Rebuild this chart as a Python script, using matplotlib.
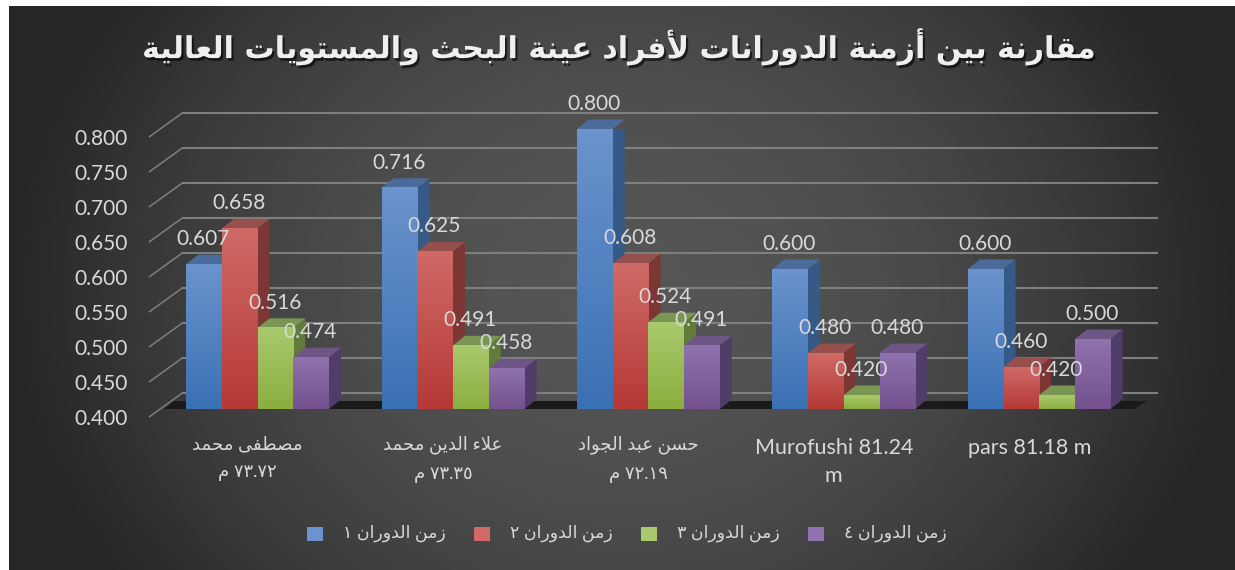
import re
import numpy as np
import matplotlib
matplotlib.use('Agg')
import matplotlib.pyplot as plt
import matplotlib.patheffects as pe
from matplotlib.patches import Patch, Polygon
from matplotlib.transforms import ScaledTranslation

plt.rcParams['font.family'] = ['Lato', 'DejaVu Sans']

title = 'مقارنة بين أزمنة الدورانات لأفراد عينة البحث والمستويات العالية'
categories = ['مصطفى محمد\n٧٣.٧٢ م', 'علاء الدين محمد\n٧٣.٣٥ م', 'حسن عبد الجواد\n٧٢.١٩ م',
              'Murofushi 81.24\nm', 'pars 81.18 m']
series_names = ['زمن الدوران ١', 'زمن الدوران ٢', 'زمن الدوران ٣', 'زمن الدوران ٤']
lap1 = [0.607, 0.716, 0.800, 0.600, 0.600]
lap2 = [0.658, 0.625, 0.608, 0.480, 0.460]
lap3 = [0.516, 0.491, 0.524, 0.420, 0.420]
lap4 = [0.474, 0.458, 0.491, 0.480, 0.500]
yticks = [0.40, 0.45, 0.50, 0.55, 0.60, 0.65, 0.70, 0.75, 0.80]

# face colours: gradient top, gradient bottom, top face, side face
colors = [('#6b93cd', '#3a71b4', '#4b6c9a', '#365a88'),
          ('#cf6a66', '#b53936', '#954f4c', '#7c3634'),
          ('#a9c96d', '#8bae3f', '#7b9552', '#627a3a'),
          ('#8f72ae', '#74518f', '#6d5586', '#503c68')]

# matplotlib does no arabic shaping, so pick the presentation forms here
two_forms = {'أ': 0xFE83, 'ا': 0xFE8D, 'ة': 0xFE93, 'د': 0xFEA9, 'ر': 0xFEAD,
             'ز': 0xFEAF, 'و': 0xFEED, 'ى': 0xFEEF}
four_forms = {'ب': 0xFE8F, 'ت': 0xFE95, 'ث': 0xFE99, 'ج': 0xFE9D, 'ح': 0xFEA1,
              'س': 0xFEB1, 'ص': 0xFEB9, 'ط': 0xFEC1, 'ع': 0xFEC9, 'ف': 0xFED1,
              'ق': 0xFED5, 'ل': 0xFEDD, 'م': 0xFEE1, 'ن': 0xFEE5, 'ي': 0xFEF1}
lam_alef = {'أ': 0xFEF7, 'ا': 0xFEFB}


def shape_line(line):
    out = []
    prev_joins = False
    i = 0
    while i < len(line):
        c = line[i]
        nxt = line[i + 1] if i + 1 < len(line) else ''
        if c == 'ل' and nxt in lam_alef:
            out.append(chr(lam_alef[nxt] + (1 if prev_joins else 0)))
            prev_joins = False
            i += 2
            continue
        if c in two_forms:
            out.append(chr(two_forms[c] + (1 if prev_joins else 0)))
            prev_joins = False
        elif c in four_forms:
            next_joins = nxt in two_forms or nxt in four_forms
            if prev_joins:
                form = 3 if next_joins else 1
            else:
                form = 2 if next_joins else 0
            out.append(chr(four_forms[c] + form))
            prev_joins = next_joins
        elif c == 'ء':
            out.append(chr(0xFE80))
            prev_joins = False
        else:
            out.append(c)
            prev_joins = False
        i += 1
    visual = ''.join(out)[::-1]
    return re.sub(r'[٠-٩.]+', lambda m: m.group(0)[::-1], visual)


def ar(text):
    if re.search(r'[A-Za-z]', text):
        return text
    return '\n'.join(shape_line(l) for l in text.split('\n'))


W, H = 1235, 570
fig = plt.figure(figsize=(W / 100, H / 100), dpi=100, facecolor='white')

# background
bg = fig.add_axes([9 / W, 0, 1 - 9 / W, 564 / H], zorder=-1)
u, v = np.meshgrid(np.linspace(-1, 1, 400), np.linspace(-1, 1, 200))
d = np.clip(np.sqrt(u ** 2 + (0.55 * v) ** 2), 0, 1)
shade = 0.335 - (0.335 - 0.15) * d ** 1.9
bg.imshow(shade, cmap='gray', vmin=0, vmax=1, aspect='auto', interpolation='bilinear')
bg.axis('off')

# plot area is the plane of the bar fronts
px_x = 1 / 195.4
px_y = 1 / 700
ax = fig.add_axes([149.5 / W, 1 - 409 / H, (1158 - 149.5) / W, 280 / H])
ax.patch.set_visible(False)
xlim = ((149.5 - 257.6) * px_x, (1158 - 257.6) * px_x)
ylim = (0.4, 0.8)

grid_c = '#7f7f7f'
x_left = xlim[0]
for t in yticks:
    y_back = t + 15.7 * px_y
    y_front = t - 7.7 * px_y
    ax.plot([x_left + 32.4 * px_x, xlim[1]], [y_back, y_back], color=grid_c, lw=1.5,
            clip_on=False, zorder=1, solid_capstyle='butt')
    ax.plot([x_left, x_left + 32.4 * px_x], [y_front, y_back], color=grid_c, lw=1.1,
            clip_on=False, zorder=1)

# floor shadow
ax.add_patch(Polygon([(xlim[0] + 14.5 * px_x, 0.4), (xlim[0] + 24.5 * px_x, 0.4 + 8 * px_y),
                      (xlim[1] - 11 * px_x, 0.4 + 8 * px_y), (xlim[1] - 24 * px_x, 0.4)],
                     color='#1a1a1a', lw=0, clip_on=False, zorder=2))

x = np.arange(len(categories))
width = 35.7 * px_x
dep_x = 12 * px_x
dep_y = 9.5 * px_y
all_laps = [lap1, lap2, lap3, lap4]
for s, vals in enumerate(all_laps):
    top_c, bot_c, cap_c, side_c = colors[s]
    ramp = np.linspace(matplotlib.colors.to_rgb(top_c), matplotlib.colors.to_rgb(bot_c), 64)[:, None, :]
    z = 3 + s
    bars = ax.bar(x + (s - 1.5) * width, np.array(vals) - 0.4, width, bottom=0.4, color=bot_c, zorder=z)
    for bar, val in zip(bars, vals):
        x0, x1 = bar.get_x(), bar.get_x() + bar.get_width()
        ax.add_patch(Polygon([(x1, 0.4), (x1 + dep_x, 0.4 + dep_y), (x1 + dep_x, val + dep_y), (x1, val)],
                             color=side_c, lw=0, zorder=z))
        ax.add_patch(Polygon([(x0, val), (x0 + dep_x, val + dep_y), (x1 + dep_x, val + dep_y), (x1, val)],
                             color=cap_c, lw=0, clip_on=False, zorder=z))
        ax.imshow(ramp, extent=(x0, x1, 0.4, val), aspect='auto', zorder=z + 0.1)
        ax.annotate(f'{val:.3f}', ((x0 + x1) / 2, val), xytext=(-0.5, 18.2), textcoords='offset points',
                    ha='center', va='center', fontsize=15, color='#d9d9d9', zorder=20,
                    annotation_clip=False)

ax.set_xlim(xlim)
ax.set_ylim(ylim)
for sp in ax.spines.values():
    sp.set_visible(False)

ax.set_yticks(yticks)
ax.set_yticklabels([f'{t:.3f}' for t in yticks], fontsize=15, color='#d9d9d9')
ax.set_xticks(x)
ax.set_xticklabels([ar(c) for c in categories], color='#d9d9d9')
ax.tick_params(axis='y', length=0, pad=15.5)
ax.tick_params(axis='x', length=0, pad=19)
for lab, c in zip(ax.get_xticklabels(), categories):
    if re.search(r'[A-Za-z]', c):
        lab.set_fontsize(15.5)
        lab.set_linespacing(1.5)
        shift = ScaledTranslation(-10 / 100, -3 / 100, fig.dpi_scale_trans)
    else:
        lab.set_fontsize(13)
        lab.set_linespacing(1.9)
        shift = ScaledTranslation(-10 / 100, 0, fig.dpi_scale_trans)
    lab.set_transform(lab.get_transform() + shift)
for lab in ax.get_yticklabels():
    lab.set_transform(lab.get_transform() + ScaledTranslation(0, -7.7 / 100, fig.dpi_scale_trans))

# legend
handles = [Patch(facecolor=colors[i][0], label=ar(series_names[i])) for i in range(4)]
leg = fig.legend(handles=handles, ncol=4, loc='center', bbox_to_anchor=(627 / W, 1 - 533 / H),
                 frameon=False, fontsize=12.5, labelcolor='#d9d9d9', handlelength=0.9, handleheight=0.9,
                 handletextpad=1.2, columnspacing=1.6)
for patch in leg.get_patches():
    patch.set_y(patch.get_y() - 2)

fig.text(619 / W, 1 - 47 / H, ar(title), ha='center', va='center', fontsize=21.7,
         fontweight='bold', color='#efefef', family='DejaVu Sans',
         path_effects=[pe.withSimplePatchShadow(offset=(1.5, -2), shadow_rgbFace='black', alpha=0.6)])

fig.savefig('out.png', dpi=100)
